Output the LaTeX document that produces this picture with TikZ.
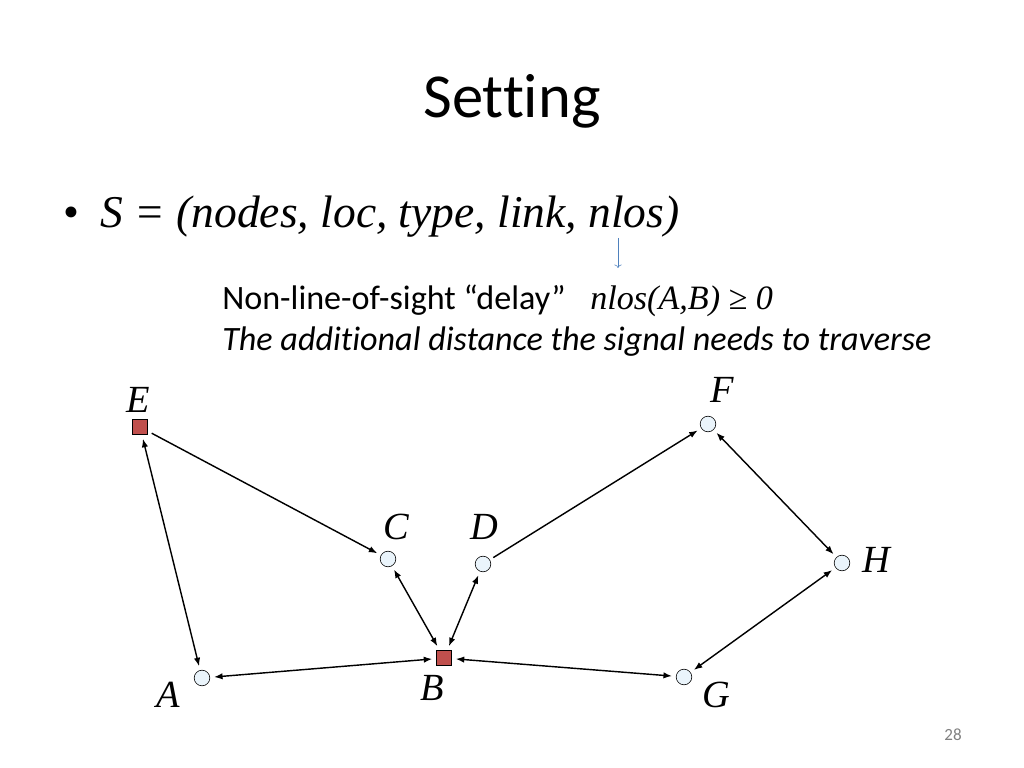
\documentclass[tikz,border=0pt]{standalone}
\usepackage{fontspec}
\setmainfont{Carlito}[Ligatures=CommonOff]
\newfontfamily\tnr{Liberation Serif}
\usetikzlibrary{arrows.meta}
\definecolor{ancre}{HTML}{C0504D}
\definecolor{bleu}{HTML}{4F81BD}
\definecolor{ciel}{HTML}{EAF4FB}

\begin{document}
\begin{tikzpicture}[x=0.703125pt,y=-0.703125pt,
  >={Latex[length=6pt,width=4.5pt]},
  sta/.style={circle,draw,fill=ciel,minimum size=11pt,inner sep=0pt,outer sep=3pt},
  anc/.style={rectangle,draw,fill=ancre,minimum size=10.5pt,inner sep=0pt,outer sep=3pt},
  nom/.style={font=\tnr\itshape\fontsize{27}{32}\selectfont,inner sep=0pt},
  lien/.style={line width=1pt}]
\useasboundingbox (0,0) rectangle (1024,768);

% titre
\node[font=\fontsize{44}{52}\selectfont,anchor=base] (titre) at (512,118) {Setting};
\node[font=\tnr\fontsize{32}{38}\selectfont,anchor=base west] (puce) at (58,228) {\textbullet};
\node[font=\tnr\itshape\fontsize{32}{38}\selectfont,anchor=base west,inner sep=0pt] (def) at (100,228) {S = (nodes, loc, type, link, nlos)};

% nlos
\coordinate (haut) at (618,238);
\coordinate (bas) at (618,268);
\draw[-To,bleu,thin] (haut) -- (bas);
\node[font=\fontsize{24}{29}\selectfont,anchor=base west,inner sep=0pt] (delai) at (222,310) {Non-line-of-sight “delay”};
\node[font=\tnr\itshape\fontsize{24}{29}\selectfont,anchor=base west,inner sep=0pt] (nlos) at (590,310) {nlos(A,B) ≥ 0};
\node[font=\itshape\fontsize{24}{29}\selectfont,anchor=base west,inner sep=0pt] (expl) at (222,350) {The additional distance the signal needs to traverse};

% stations et ancres
\node[anc] (E) at (140,427) {};
\node[sta] (A) at (202,678) {};
\node[sta] (C) at (388,559) {};
\node[sta] (D) at (483,564) {};
\node[anc] (B) at (444,658) {};
\node[sta] (F) at (708,424) {};
\node[sta] (H) at (842,563) {};
\node[sta] (G) at (684,677) {};

% noms
\node[nom] (nE) at (138,400) {E};
\node[nom] (nA) at (168,695) {A};
\node[nom] (nC) at (396,527) {C};
\node[nom] (nD) at (484,527) {D};
\node[nom] (nB) at (432,688) {B};
\node[nom] (nF) at (722,390) {F};
\node[nom] (nH) at (876,560) {H};
\node[nom] (nG) at (716,695) {G};

% liens
\draw[lien,<->] (E) -- (A);
\draw[lien,->] (E) -- (C);
\draw[lien,<->] (C) -- (B);
\draw[lien,<->] (D) -- (B);
\draw[lien,<->] (A) -- (B);
\draw[lien,<->] (B) -- (G);
\draw[lien,->] (D) -- (F);
\draw[lien,<->] (F) -- (H);
\draw[lien,<->] (H) -- (G);

\node[font=\fontsize{12}{14}\selectfont,text=gray] (page) at (953,735) {28};
\end{tikzpicture}
\end{document}
